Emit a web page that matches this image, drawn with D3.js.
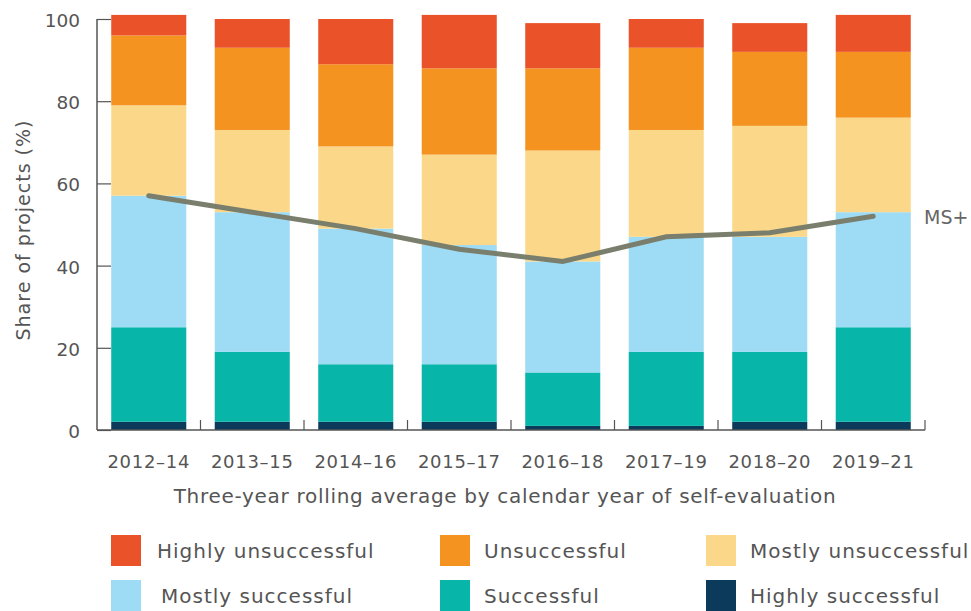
<!DOCTYPE html>
<html>
<head>
  <style>
    body { margin: 0; background: white; }
    text { font-family: "DejaVu Sans", sans-serif; fill: #555; }
  </style>
</head>
<body>
  <script src="https://d3js.org/d3.v7.min.js"></script>
  <script>
    var width = 971, height = 611;

    // data (percent of projects per rating)
    var periods = ["2012–14", "2013–15", "2014–16", "2015–17", "2016–18", "2017–19", "2018–20", "2019–21"];
    var highlySuccessful    = [2, 2, 2, 2, 1, 1, 2, 2];
    var successful          = [23, 17, 14, 14, 13, 18, 17, 23];
    var mostlySuccessful    = [32, 34, 33, 29, 27, 28, 28, 28];
    var mostlyUnsuccessful  = [22, 20, 20, 22, 27, 26, 27, 23];
    var unsuccessful        = [17, 20, 20, 21, 20, 20, 18, 16];
    var highlyUnsuccessful  = [5, 7, 11, 13, 11, 7, 7, 9];
    var msPlus              = [57, 53, 49, 44, 41, 47, 48, 52];
    var yTicks = [0, 20, 40, 60, 80, 100];

    var keys = ["Highly successful", "Successful", "Mostly successful",
                "Mostly unsuccessful", "Unsuccessful", "Highly unsuccessful"];
    var series = [highlySuccessful, successful, mostlySuccessful,
                  mostlyUnsuccessful, unsuccessful, highlyUnsuccessful];
    var colors = {
      "Highly successful": "#0b3a5a",
      "Successful": "#07b6a9",
      "Mostly successful": "#9edbf4",
      "Mostly unsuccessful": "#fbd889",
      "Unsuccessful": "#f59321",
      "Highly unsuccessful": "#ea5329"
    };

    var rows = periods.map(function(p, i) {
      var r = { period: p };
      keys.forEach(function(k, j) { r[k] = series[j][i]; });
      return r;
    });
    var stacked = d3.stack().keys(keys)(rows);

    var svg = d3.select("body").append("svg")
      .attr("width", width).attr("height", height);

    var x = d3.scaleBand().domain(periods).range([97, 925]).paddingInner(0.275).paddingOuter(0.1375);
    var y = d3.scaleLinear().domain([0, 100]).range([430, 19]);

    svg.append("g").selectAll("g")
      .data(stacked)
      .enter().append("g")
        .attr("fill", d => colors[d.key])
      .selectAll("rect")
      .data(d => d)
      .enter().append("rect")
        .attr("x", d => x(d.data.period))
        .attr("width", x.bandwidth())
        .attr("y", d => y(d[1]))
        .attr("height", d => y(d[0]) - y(d[1]));

    // y axis, ticks pointing inward
    var yAxis = svg.append("g")
      .attr("transform", "translate(97,0)")
      .call(d3.axisRight(y).tickValues(yTicks).tickSize(14).tickFormat(d3.format("d")));
    yAxis.select(".domain").attr("stroke", "#555").attr("stroke-width", 1.5).attr("d", "M0,19V430");
    yAxis.selectAll(".tick line").attr("stroke", "#555").attr("stroke-width", 1.2);
    yAxis.selectAll(".tick text")
      .attr("x", -17).attr("text-anchor", "end").attr("dy", "0.4em")
      .style("font-size", "18.5px");

    // x axis with ticks between bars pointing up
    var xAxis = svg.append("g").attr("transform", "translate(0,430)");
    xAxis.append("line").attr("x1", 97).attr("x2", 925)
      .attr("stroke", "#555").attr("stroke-width", 1.5);
    xAxis.selectAll("line.sep")
      .data(periods)
      .enter().append("line")
        .attr("class", "sep")
        .attr("x1", d => x(d) + x.step() * (1 - x.paddingInner() / 2))
        .attr("x2", d => x(d) + x.step() * (1 - x.paddingInner() / 2))
        .attr("y1", 0).attr("y2", -10)
        .attr("stroke", "#555").attr("stroke-width", 1.2);
    xAxis.selectAll("text")
      .data(periods)
      .enter().append("text")
        .attr("x", d => x(d) + x.bandwidth() / 2)
        .attr("y", 38)
        .attr("text-anchor", "middle")
        .style("font-size", "18px")
        .style("letter-spacing", "0.7px")
        .text(d => d);

    // MS+ line
    var line = d3.line()
      .x((d, i) => x(periods[i]) + x.bandwidth() / 2)
      .y(d => y(d));
    svg.append("path")
      .datum(msPlus)
      .attr("d", line)
      .attr("fill", "none")
      .attr("stroke", "#7a7e6d")
      .attr("stroke-width", 5)
      .attr("stroke-linecap", "round");
    svg.append("text")
      .attr("x", 924).attr("y", y(msPlus[msPlus.length - 1]) + 1)
      .attr("dy", "0.35em")
      .style("font-size", "19px")
      .style("fill", "#666")
      .text("MS+");

    // axis titles
    svg.append("text")
      .attr("x", 505).attr("y", 503)
      .attr("text-anchor", "middle")
      .style("font-size", "20px")
      .style("letter-spacing", "0.7px")
      .text("Three-year rolling average by calendar year of self-evaluation");
    svg.append("text")
      .attr("transform", "translate(30,230) rotate(-90)")
      .attr("text-anchor", "middle")
      .style("font-size", "19px")
      .style("letter-spacing", "1px")
      .text("Share of projects (%)");

    // legend
    var legendOrder = ["Highly unsuccessful", "Unsuccessful", "Mostly unsuccessful",
                       "Mostly successful", "Successful", "Highly successful"];
    var colX = [111, 440, 706];
    var legend = svg.append("g").selectAll("g")
      .data(legendOrder)
      .enter().append("g")
        .attr("transform", (d, i) => "translate(" + colX[i % 3] + "," + (535 + Math.floor(i / 3) * 45) + ")");
    legend.append("rect")
      .attr("width", 30).attr("height", 31)
      .attr("fill", d => colors[d]);
    legend.append("text")
      .attr("x", (d, i) => i === 3 ? 50 : (i % 3 === 0 ? 46 : 44))
      .attr("y", 16).attr("dy", "0.35em")
      .style("font-size", "20px")
      .style("letter-spacing", "1px")
      .text(d => d);
  </script>
</body>
</html>
